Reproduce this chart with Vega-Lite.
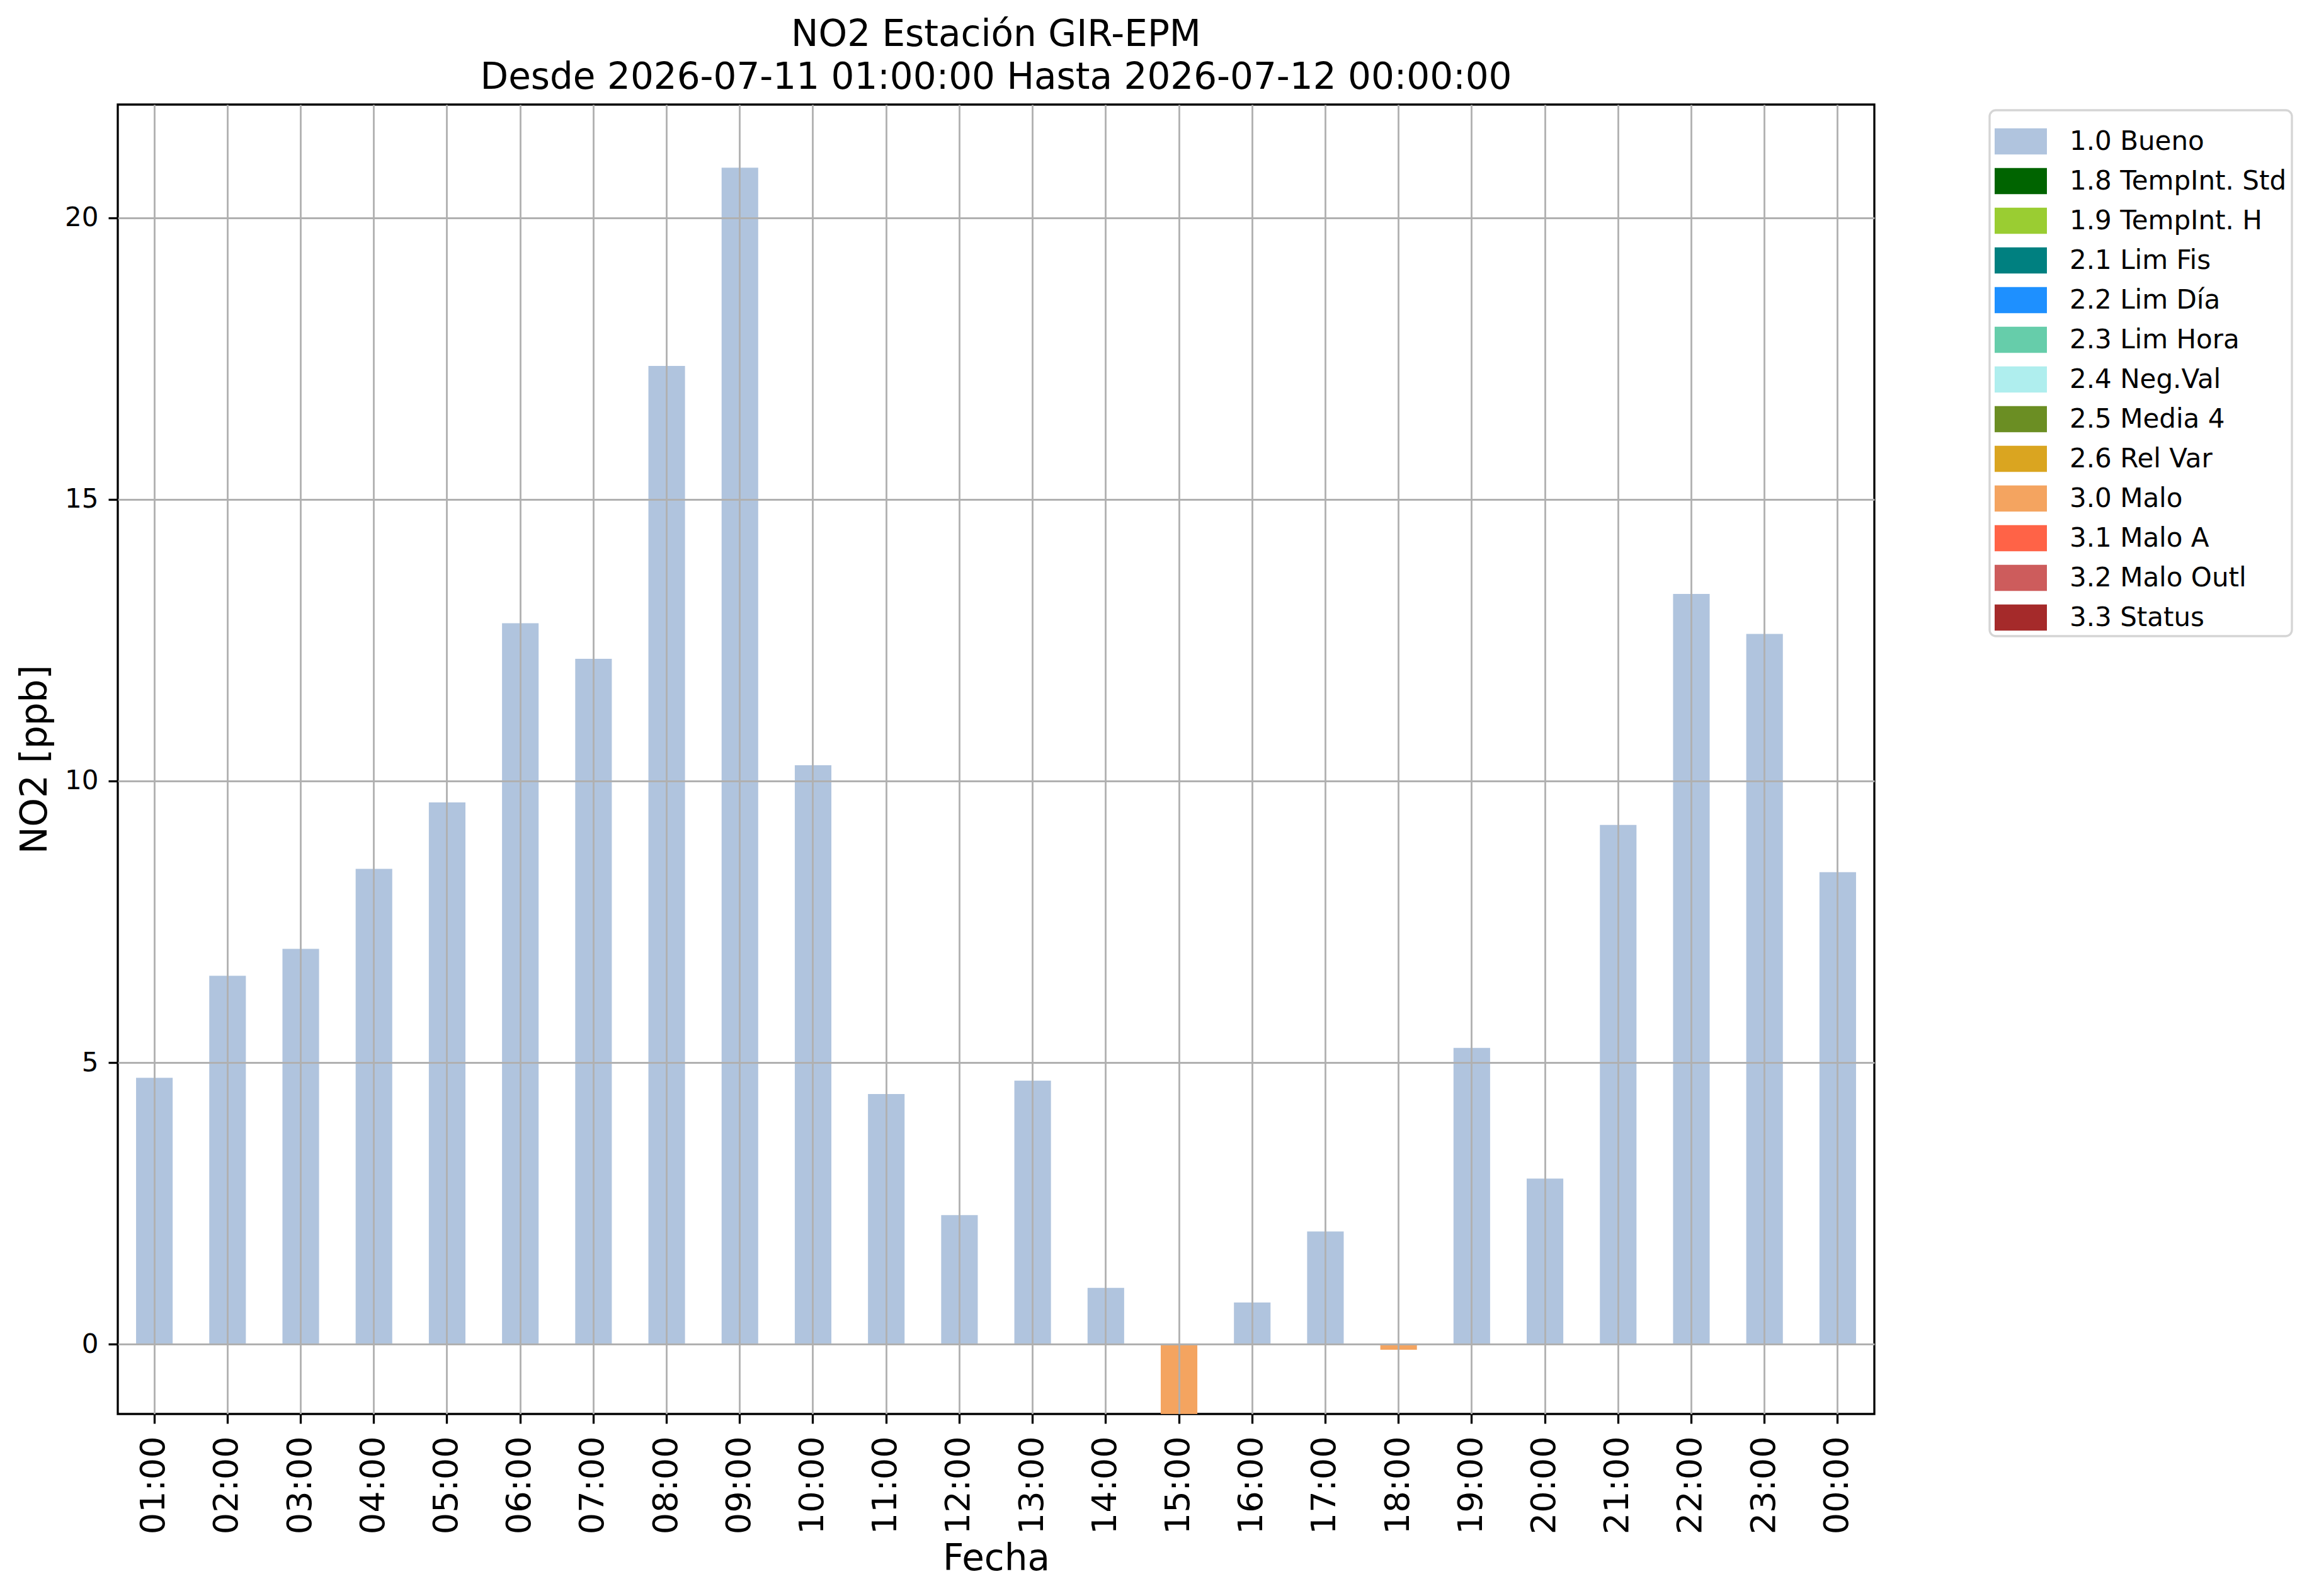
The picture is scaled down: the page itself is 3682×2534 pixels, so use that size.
{
  "$schema": "https://vega.github.io/schema/vega-lite/v6.json",
  "width": 2789,
  "height": 2079,
  "autosize": {"type": "none"},
  "padding": {"left": 187, "top": 166, "right": 706, "bottom": 289},
  "background": "white",
  "title": {
    "text": ["NO2 Estación GIR-EPM", "Desde 2026-07-11 01:00:00 Hasta 2026-07-12 00:00:00"],
    "fontSize": 58,
    "font": "DejaVu Sans",
    "fontWeight": "normal",
    "lineHeight": 68,
    "anchor": "middle",
    "offset": 13,
    "color": "black"
  },
  "config": {
    "view": {"stroke": "black", "strokeWidth": 3.3},
    "font": "DejaVu Sans"
  },
  "data": {
    "values": [
      {"hora": "01:00", "valor": 4.73, "flag": "1.0 Bueno"},
      {"hora": "02:00", "valor": 6.54, "flag": "1.0 Bueno"},
      {"hora": "03:00", "valor": 7.02, "flag": "1.0 Bueno"},
      {"hora": "04:00", "valor": 8.44, "flag": "1.0 Bueno"},
      {"hora": "05:00", "valor": 9.62, "flag": "1.0 Bueno"},
      {"hora": "06:00", "valor": 12.8, "flag": "1.0 Bueno"},
      {"hora": "07:00", "valor": 12.17, "flag": "1.0 Bueno"},
      {"hora": "08:00", "valor": 17.37, "flag": "1.0 Bueno"},
      {"hora": "09:00", "valor": 20.89, "flag": "1.0 Bueno"},
      {"hora": "10:00", "valor": 10.28, "flag": "1.0 Bueno"},
      {"hora": "11:00", "valor": 4.44, "flag": "1.0 Bueno"},
      {"hora": "12:00", "valor": 2.29, "flag": "1.0 Bueno"},
      {"hora": "13:00", "valor": 4.68, "flag": "1.0 Bueno"},
      {"hora": "14:00", "valor": 1.0, "flag": "1.0 Bueno"},
      {"hora": "15:00", "valor": -1.3, "flag": "3.0 Malo"},
      {"hora": "16:00", "valor": 0.74, "flag": "1.0 Bueno"},
      {"hora": "17:00", "valor": 2.0, "flag": "1.0 Bueno"},
      {"hora": "18:00", "valor": -0.1, "flag": "3.0 Malo"},
      {"hora": "19:00", "valor": 5.26, "flag": "1.0 Bueno"},
      {"hora": "20:00", "valor": 2.94, "flag": "1.0 Bueno"},
      {"hora": "21:00", "valor": 9.22, "flag": "1.0 Bueno"},
      {"hora": "22:00", "valor": 13.32, "flag": "1.0 Bueno"},
      {"hora": "23:00", "valor": 12.61, "flag": "1.0 Bueno"},
      {"hora": "00:00", "valor": 8.38, "flag": "1.0 Bueno"}
    ]
  },
  "mark": {"type": "bar", "clip": true},
  "encoding": {
    "x": {
      "field": "hora",
      "type": "nominal",
      "sort": null,
      "scale": {"paddingInner": 0.5, "paddingOuter": 0.25},
      "axis": {
        "title": "Fecha",
        "titleFontSize": 58,
        "titleFontWeight": "normal",
        "titleColor": "black",
        "titleX": 1394.5,
        "titleY": 247,
        "titleBaseline": "alphabetic",
        "titleAlign": "center",
        "labelAngle": -90,
        "labelFontSize": 54,
        "labelColor": "black",
        "labelPadding": 20,
        "tickSize": 15,
        "tickWidth": 3.3,
        "tickColor": "black",
        "domain": false,
        "grid": true,
        "gridColor": "#b0b0b0",
        "gridWidth": 2.8,
        "bandPosition": 0.5,
        "zindex": 1
      }
    },
    "y": {
      "field": "valor",
      "type": "quantitative",
      "stack": null,
      "scale": {"domain": [-1.24, 22.01], "nice": false, "zero": false},
      "axis": {
        "title": "NO2 [ppb]",
        "values": [0, 5, 10, 15, 20],
        "titleFontSize": 58,
        "titleFontWeight": "normal",
        "titleColor": "black",
        "titleX": -131,
        "titleY": 1039.5,
        "titleAngle": 270,
        "titleBaseline": "middle",
        "titleAlign": "center",
        "labelFontSize": 42,
        "labelColor": "black",
        "labelPadding": 16,
        "tickSize": 15,
        "tickWidth": 3.3,
        "tickColor": "black",
        "domain": false,
        "grid": true,
        "gridColor": "#b0b0b0",
        "gridWidth": 2.8,
        "zindex": 1
      }
    },
    "color": {
      "field": "flag",
      "type": "nominal",
      "scale": {
        "domain": ["1.0 Bueno", "1.8 TempInt. Std", "1.9 TempInt. H", "2.1 Lim Fis", "2.2 Lim Día", "2.3 Lim Hora", "2.4 Neg.Val", "2.5 Media 4", "2.6 Rel Var", "3.0 Malo", "3.1 Malo A", "3.2 Malo Outl", "3.3 Status"],
        "range": ["#B0C4DE", "#006400", "#9ACD32", "#008080", "#1E90FF", "#66CDAA", "#AFEEEE", "#6B8E23", "#DAA520", "#F4A460", "#FF6347", "#CD5C5C", "#A52A2A"]
      },
      "legend": {
        "title": null,
        "orient": "none",
        "legendX": 2972,
        "legendY": 9,
        "symbolType": "M-1,-0.5H1V0.5H-1Z",
        "symbolSize": 6889,
        "symbolStrokeWidth": 0,
        "symbolOpacity": 1,
        "labelFontSize": 42,
        "labelColor": "black",
        "labelOffset": 36,
        "labelLimit": 0,
        "rowPadding": 0,
        "padding": 8,
        "strokeColor": "#d5d5d5",
        "cornerRadius": 10,
        "fillColor": "white",
        "encode": {
          "legend": {"update": {"strokeWidth": {"value": 3.3}}}
        }
      }
    }
  }
}
